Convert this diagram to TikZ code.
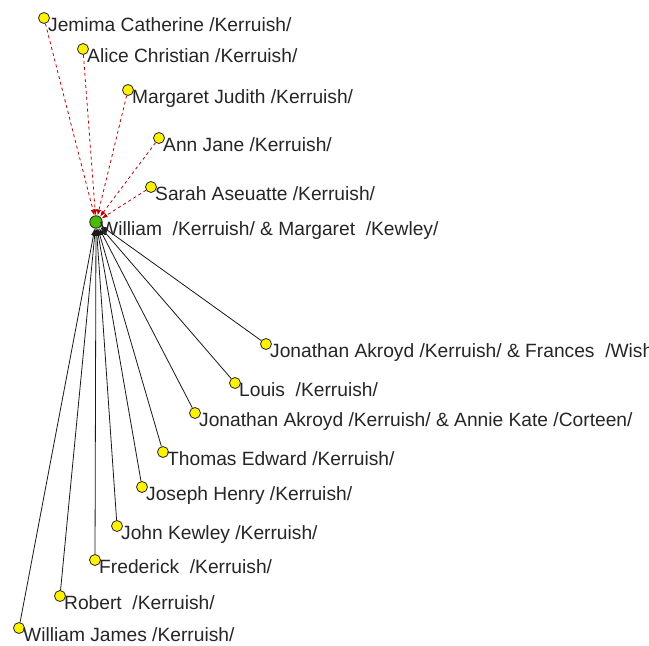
\documentclass[tikz,border=0pt]{standalone}
\usepackage{fontspec}
\setmainfont{Liberation Sans}
\usetikzlibrary{arrows.meta}
\begin{document}
\begin{tikzpicture}[x=1pt,y=-1pt,
  leaf/.style={circle,draw=black!85,fill=yellow,minimum size=11pt,inner sep=0pt,line width=0.8pt},
  root/.style={circle,draw=black!85,fill=green!55!black!60!lime,minimum size=12.5pt,inner sep=0pt,line width=0.8pt},
  lbl/.style={anchor=base west,inner sep=0pt,font=\fontsize{19.2}{22}\selectfont,text=black!85},
  child/.style={draw=black!90,line width=0.8pt,-{Latex[length=7pt,width=5pt]}},
  parent/.style={draw=red!75!black,line width=0.8pt,dash pattern=on 3pt off 3pt,-{Latex[length=6pt,width=4.5pt]}}
]
\useasboundingbox (0,0) rectangle (649,646);
\clip (0,0) rectangle (649,646);
\fill[white] (0,0) rectangle (649,646);
% root
\node[root] (c) at (96,222) {};
% parents (top)
\node[leaf] (p1) at (44,18) {};
\node[leaf] (p2) at (83,49) {};
\node[leaf] (p3) at (128,90) {};
\node[leaf] (p4) at (159,138) {};
\node[leaf] (p5) at (151,187) {};
% children (bottom)
\node[leaf] (k1) at (266,344) {};
\node[leaf] (k2) at (235,383) {};
\node[leaf] (k3) at (195,413) {};
\node[leaf] (k4) at (163,452) {};
\node[leaf] (k5) at (142,487) {};
\node[leaf] (k6) at (117,526) {};
\node[leaf] (k7) at (95,560) {};
\node[leaf] (k8) at (60,596) {};
\node[leaf] (k9) at (19,628) {};
% connectors
\foreach \n in {p1,p2,p3,p4,p5} \draw[parent] (\n) -- (c);
\foreach \n in {k1,k2,k3,k4,k5,k6,k7,k8,k9} \draw[child] (\n) -- (c);
% labels
\node[lbl] (tc) at (100,235) {William\ \ /Kerruish/ \& Margaret\ \ /Kewley/};
\node[lbl] (tp1) at (48,31) {Jemima Catherine /Kerruish/};
\node[lbl] (tp2) at (87,62) {Alice Christian /Kerruish/};
\node[lbl] (tp3) at (132,103) {Margaret Judith /Kerruish/};
\node[lbl] (tp4) at (163,151) {Ann Jane /Kerruish/};
\node[lbl] (tp5) at (155,200) {Sarah Aseuatte /Kerruish/};
\node[lbl] (tk1) at (270,357) {Jonathan Akroyd /Kerruish/ \& Frances\ \ /Wish};
\node[lbl] (tk2) at (239,396) {Louis\ \ /Kerruish/};
\node[lbl] (tk3) at (199,426) {Jonathan Akroyd /Kerruish/ \& Annie Kate /Corteen/};
\node[lbl] (tk4) at (167,465) {Thomas Edward /Kerruish/};
\node[lbl] (tk5) at (146,500) {Joseph Henry /Kerruish/};
\node[lbl] (tk6) at (121,539) {John Kewley /Kerruish/};
\node[lbl] (tk7) at (99,573) {Frederick\ \ /Kerruish/};
\node[lbl] (tk8) at (64,609) {Robert\ \ /Kerruish/};
\node[lbl] (tk9) at (23,641) {William James /Kerruish/};
\end{tikzpicture}
\end{document}
